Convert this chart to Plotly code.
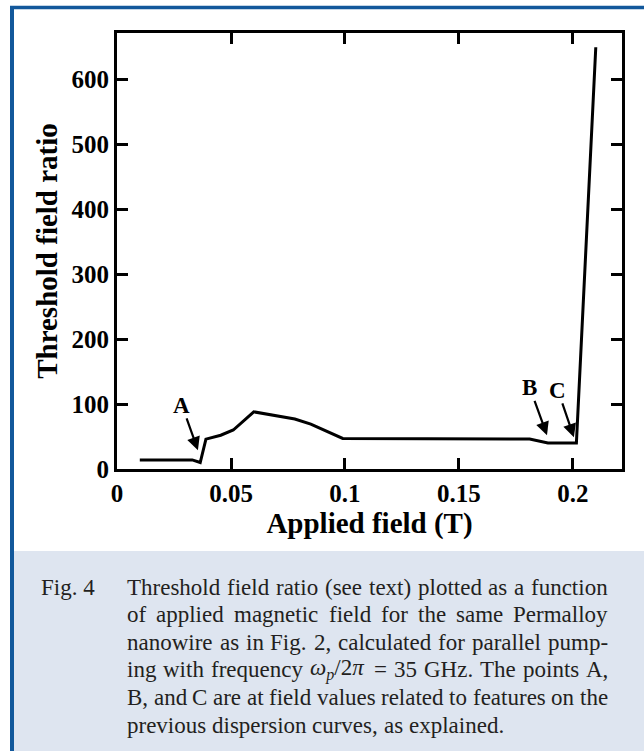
import plotly.graph_objects as go

# ---------------- data ----------------
field_T = [0.01, 0.033, 0.0365, 0.039, 0.0455, 0.051, 0.06, 0.078, 0.085, 0.099, 0.181, 0.189, 0.2015, 0.21]
threshold_ratio = [14, 14, 10, 46, 52, 60, 88, 77, 69, 47, 46, 40, 40, 649]

x_tickvals = [0, 0.05, 0.1, 0.15, 0.2]
x_ticktext = ["0", "0.05", "0.1", "0.15", "0.2"]
y_tickvals = [0, 100, 200, 300, 400, 500, 600]
y_ticktext = ["0", "100", "200", "300", "400", "500", "600"]

point_labels = ["A", "B", "C"]
label_x = [0.0285, 0.1811, 0.1934]
label_y = [98, 125, 121]
arrow_head_x = [0.0355, 0.1886, 0.2004]
arrow_head_y = [29, 52, 49]

caption_tag = "Fig. 4"
caption_lines = [
    "Threshold field ratio (see text) plotted as a function",
    "of applied magnetic field for the same Permalloy",
    "nanowire as in Fig. 2, calculated for parallel pump-",
    "ing with frequency \u03c9p/2\u03c0 = 35 GHz. The points A,",
    "B, and C are at field values related to features on the",
    "previous dispersion curves, as explained.",
]

# ---------------- layout geometry (pixels) ----------------
W, H = 644, 751
PL, PR, PT, PB = 117, 622, 33, 469


def px(xp):
    return (xp - PL) / (PR - PL)


def py(yp):
    return (PB - yp) / (PB - PT)


SERIF = "Liberation Serif, Times New Roman, serif"

fig = go.Figure()
fig.add_trace(go.Scatter(
    x=field_T, y=threshold_ratio, mode="lines",
    line=dict(color="black", width=3), showlegend=False, hoverinfo="skip",
))

axis_common = dict(
    showgrid=False, zeroline=False, showline=True, linecolor="black", linewidth=3,
    mirror="allticks", ticks="inside", ticklen=11, tickwidth=2.5, tickcolor="black",
    tickfont=dict(family=SERIF, size=25, color="black", weight="bold"),
)

fig.update_xaxes(
    range=[0, 0.2215], tickvals=x_tickvals, ticktext=x_ticktext,
    title=dict(text="Applied field (T)", font=dict(family=SERIF, size=29, color="black", weight="bold"), standoff=4),
    **axis_common,
)
fig.update_yaxes(
    range=[0, 671], tickvals=y_tickvals, ticktext=y_ticktext,
    title=dict(text="Threshold field ratio", font=dict(family=SERIF, size=29, color="black", weight="bold"), standoff=6),
    **axis_common,
)

annotations = []
# labels with arrows pointing to the curve features
for lab, lx, ly, hx, hy in zip(point_labels, label_x, label_y, arrow_head_x, arrow_head_y):
    annotations.append(dict(x=hx, y=hy, ax=lx, ay=ly, xref="x", yref="y", axref="x", ayref="y",
                            text=lab, showarrow=True, arrowhead=2, arrowsize=1.2, arrowwidth=2.2,
                            arrowcolor="black", standoff=0, startstandoff=0, borderpad=0,
                            font=dict(family=SERIF, size=23, color="black", weight="bold")))

# ---------------- caption (justified text) ----------------
TW = {
    'a': 444, 'b': 500, 'c': 444, 'd': 500, 'e': 444, 'f': 333, 'g': 500, 'h': 500, 'i': 278,
    'j': 278, 'k': 500, 'l': 278, 'm': 778, 'n': 500, 'o': 500, 'p': 500, 'q': 500, 'r': 333,
    's': 389, 't': 278, 'u': 500, 'v': 500, 'w': 722, 'x': 500, 'y': 500, 'z': 444,
    'A': 722, 'B': 667, 'C': 667, 'D': 722, 'E': 611, 'F': 556, 'G': 722, 'H': 722, 'I': 333,
    'J': 389, 'K': 722, 'L': 611, 'M': 889, 'N': 722, 'O': 722, 'P': 556, 'Q': 722, 'R': 667,
    'S': 556, 'T': 611, 'U': 722, 'V': 722, 'W': 944, 'X': 722, 'Y': 722, 'Z': 611,
    ' ': 250, ',': 250, '.': 250, '(': 333, ')': 333, '-': 333, '/': 278, '=': 564,
    '\u03c9': 680, '\u03c0': 560,
}
CAP_FS = 23
CAP_LEFT, CAP_RIGHT = 126, 607
CAP_Y0, CAP_DY = 587, 27.6
CAP_COLOR = "#231f20"


def word_width(w):
    return sum(TW.get(ch, 500) for ch in w) / 1000.0 * CAP_FS


def word_html(w):
    if "\u03c9" in w:
        return "<i>\u03c9</i><sub><i>p</i></sub>/2<i>\u03c0</i>"
    return w


annotations.append(dict(x=px(39), y=py(CAP_Y0), xref="paper", yref="paper", text=caption_tag,
                        showarrow=False, xanchor="left", yanchor="middle",
                        font=dict(family=SERIF, size=CAP_FS, color=CAP_COLOR)))

for i, line in enumerate(caption_lines):
    yc = CAP_Y0 + i * CAP_DY
    words = line.split(" ")
    widths = [word_width(w) for w in words]
    last = (i == len(caption_lines) - 1)
    if last or len(words) < 2:
        gap = TW[' '] / 1000.0 * CAP_FS
    else:
        gap = (CAP_RIGHT - CAP_LEFT - sum(widths)) / (len(words) - 1)
    xcur = CAP_LEFT
    for w, wd in zip(words, widths):
        annotations.append(dict(x=px(xcur), y=py(yc), xref="paper", yref="paper",
                                text=word_html(w), showarrow=False, xanchor="left", yanchor="middle",
                                borderpad=0,
                                font=dict(family=SERIF, size=CAP_FS, color=CAP_COLOR)))
        xcur += wd + gap

# ---------------- decorative frame ----------------
shapes = [
    dict(type="rect", xref="paper", yref="paper", x0=px(13), x1=px(W + 5), y0=py(551), y1=py(H + 5),
         fillcolor="#dee5f0", line=dict(width=0), layer="below"),
    dict(type="line", xref="paper", yref="paper", x0=px(10), x1=px(W + 5), y0=py(7.5), y1=py(7.5),
         line=dict(color="#12589b", width=3.5)),
    dict(type="line", xref="paper", yref="paper", x0=px(12), x1=px(12), y0=py(6), y1=py(H + 5),
         line=dict(color="#12589b", width=4)),
]

fig.update_layout(
    width=W, height=H,
    margin=dict(l=PL, r=W - PR, t=PT, b=H - PB),
    paper_bgcolor="white", plot_bgcolor="white",
    annotations=annotations, shapes=shapes,
    showlegend=False,
)

fig.write_html(
    "out.html",
    config={"displayModeBar": False},
    post_script="document.body.style.margin='0';document.body.style.overflow='hidden';",
)
